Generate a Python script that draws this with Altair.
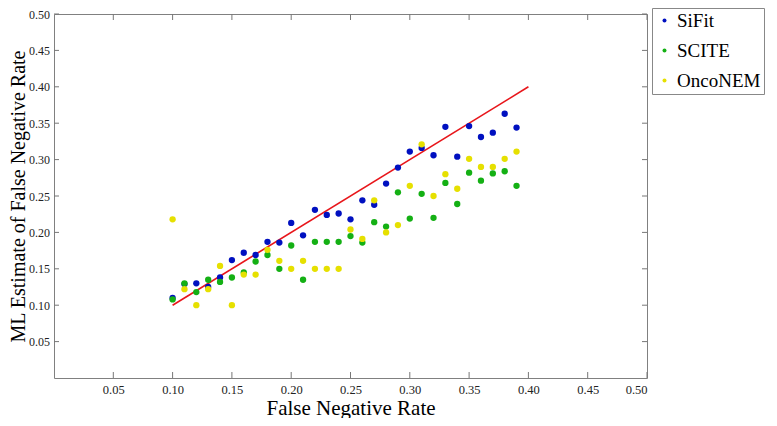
import altair as alt
import pandas as pd

fnr = [0.10, 0.11, 0.12, 0.13, 0.14, 0.15, 0.16, 0.17, 0.18, 0.19,
       0.20, 0.21, 0.22, 0.23, 0.24, 0.25, 0.26, 0.27, 0.28, 0.29,
       0.30, 0.31, 0.32, 0.33, 0.34, 0.35, 0.36, 0.37, 0.38, 0.39]
sifit = [0.110, 0.129, 0.130, 0.125, 0.138, 0.162, 0.172, 0.169, 0.187, 0.186,
         0.213, 0.196, 0.231, 0.224, 0.226, 0.218, 0.244, 0.238, 0.267, 0.289,
         0.311, 0.316, 0.306, 0.345, 0.304, 0.346, 0.331, 0.337, 0.363, 0.344]
scite = [0.108, 0.130, 0.118, 0.135, 0.132, 0.138, 0.145, 0.160, 0.169, 0.150,
         0.182, 0.135, 0.187, 0.187, 0.187, 0.195, 0.186, 0.214, 0.208, 0.255,
         0.219, 0.253, 0.220, 0.268, 0.239, 0.282, 0.271, 0.281, 0.284, 0.264]
onconem = [0.218, 0.122, 0.100, 0.122, 0.154, 0.100, 0.142, 0.142, 0.176, 0.161,
           0.150, 0.161, 0.150, 0.150, 0.150, 0.204, 0.191, 0.244, 0.200, 0.210,
           0.264, 0.321, 0.250, 0.280, 0.260, 0.301, 0.290, 0.290, 0.301, 0.311]
methods = ["SiFit", "SCITE", "OncoNEM"]
colors = ["#0010c0", "#14b014", "#e6e000"]
tick_values = [0.05, 0.10, 0.15, 0.20, 0.25, 0.30, 0.35, 0.40, 0.45, 0.50]
ideal = [0.10, 0.40]

W, H = 593, 364
FONT = "Liberation Serif"

rows = []
for k, (name, vals) in enumerate(zip(methods, [sifit, scite, onconem])):
    for x, y in zip(fnr, vals):
        rows.append({"fnr": x, "est": y, "method": name, "order": k})
df = pd.DataFrame(rows)
line_df = pd.DataFrame({"fnr": ideal, "est": ideal})
tick_df = pd.DataFrame({"t": tick_values})

xscale = alt.Scale(domain=[0, 0.5], nice=False, zero=False)
yscale = alt.Scale(domain=[0, 0.5], nice=False, zero=False)

points = alt.Chart(df).mark_circle(size=40, opacity=1).encode(
    x=alt.X("fnr:Q", scale=xscale,
            axis=alt.Axis(values=tick_values, format=".2f", title="False Negative Rate",
                          labelPadding=5, titlePadding=1.5, titleFontSize=21)),
    y=alt.Y("est:Q", scale=yscale,
            axis=alt.Axis(values=tick_values, format=".2f",
                          title="ML Estimate of False Negative Rate",
                          labelPadding=4.5, titlePadding=0, titleFontSize=20,
                          labelFontSize=12)),
    color=alt.Color("method:N", scale=alt.Scale(domain=methods, range=colors),
                    legend=alt.Legend(title=None, orient="none", legendX=598, legendY=-6,
                                      symbolType="circle", symbolSize=16,
                                      labelFont=FONT, labelFontSize=19, labelColor="#000",
                                      padding=3, rowPadding=10, labelOffset=3,
                                      strokeColor="#888", fillColor="white")),
    order=alt.Order("order:Q"),
)

diag = alt.Chart(line_df).mark_line(color="#e8161b", strokeWidth=1.6).encode(
    x=alt.X("fnr:Q", scale=xscale),
    y=alt.Y("est:Q", scale=yscale),
)

tick_color = "#777"
bottom_ticks = alt.Chart(tick_df).mark_rule(color=tick_color).encode(
    x=alt.X("t:Q", scale=xscale), y=alt.value(H), y2=alt.value(H - 6))
top_ticks = alt.Chart(tick_df).mark_rule(color=tick_color).encode(
    x=alt.X("t:Q", scale=xscale), y=alt.value(0), y2=alt.value(6))
left_ticks = alt.Chart(tick_df).mark_rule(color=tick_color).encode(
    y=alt.Y("t:Q", scale=yscale), x=alt.value(0), x2=alt.value(5))
right_ticks = alt.Chart(tick_df).mark_rule(color=tick_color).encode(
    y=alt.Y("t:Q", scale=yscale), x=alt.value(W), x2=alt.value(W - 5))

chart = alt.layer(bottom_ticks, top_ticks, left_ticks, right_ticks, diag, points).properties(
    width=W, height=H,
    autosize="none",
    padding={"left": 46, "top": 6, "right": 122, "bottom": 40},
).configure_view(
    stroke="#808080", strokeWidth=1
).configure_axis(
    domain=False, ticks=False, grid=False,
    labelFont=FONT, labelFontSize=12.5, labelColor="#222",
    titleFont=FONT, titleColor="#000", titleFontWeight="normal",
)

chart.save("out.html", embed_options={"renderer": "svg", "actions": False})
